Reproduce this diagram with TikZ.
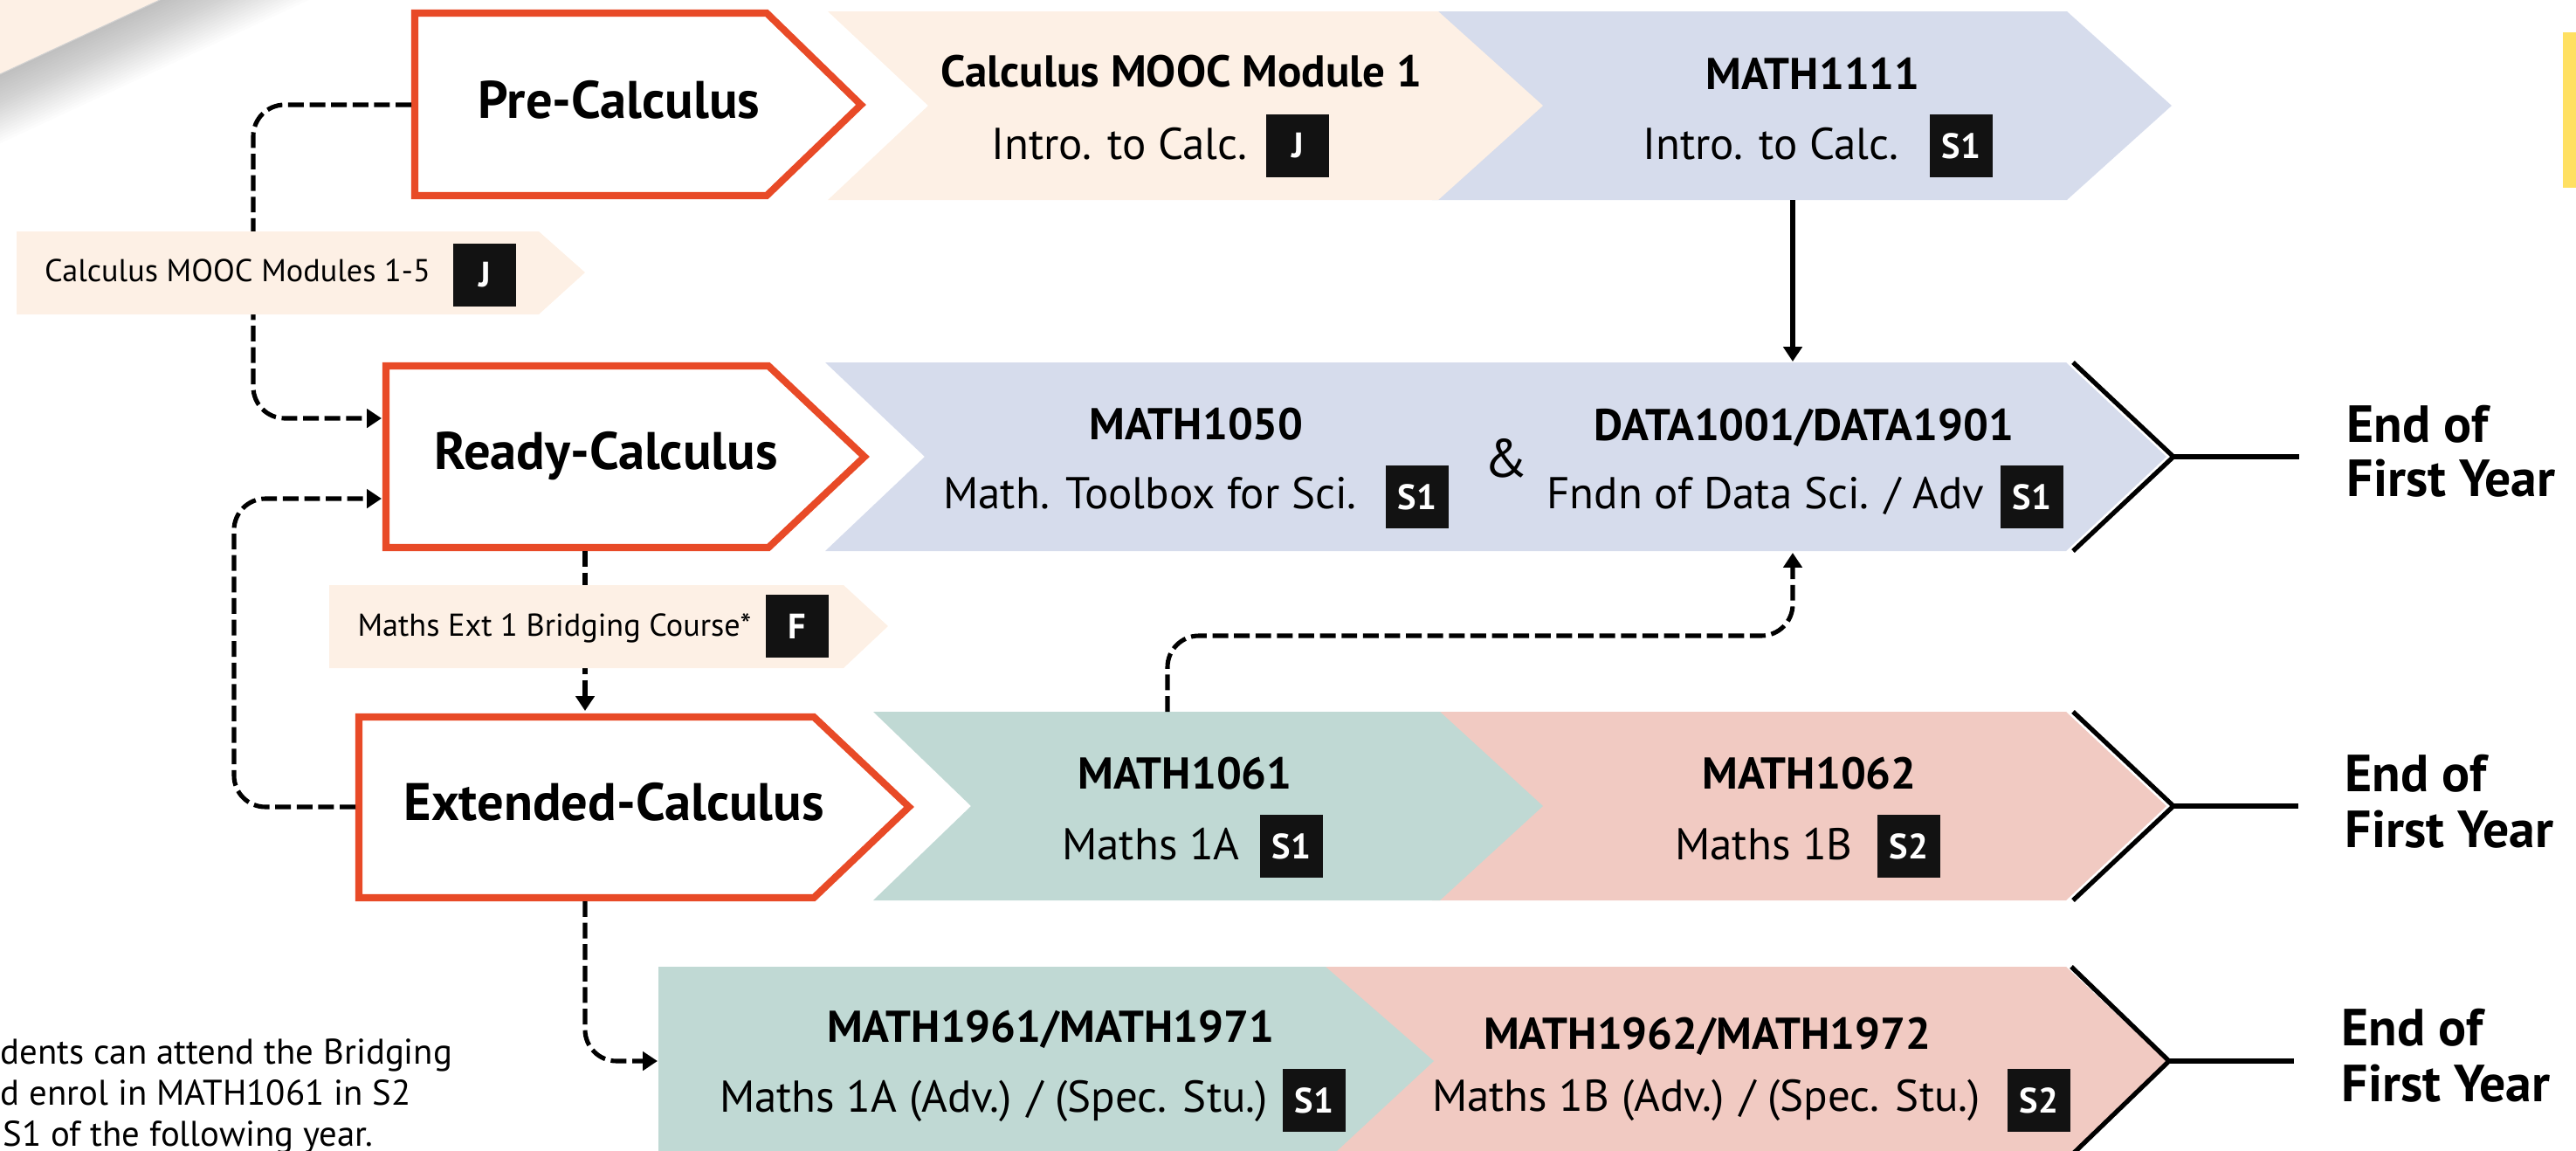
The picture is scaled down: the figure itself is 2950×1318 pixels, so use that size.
\documentclass[tikz,border=0pt]{standalone}
\usepackage{fontspec}
\setmainfont{PT Sans}
\usetikzlibrary{arrows.meta}
\definecolor{cred}{RGB}{232,74,39}
\definecolor{cbeige}{RGB}{253,240,229}
\definecolor{cblue}{RGB}{214,220,236}
\definecolor{cteal}{RGB}{192,217,212}
\definecolor{cpink}{RGB}{241,202,194}
\definecolor{cbadge}{RGB}{18,18,18}
\definecolor{cyellow}{RGB}{255,224,98}
\tikzset{
  x=0.01cm, y=-0.01cm,
  redbox/.style={draw=cred, fill=white, line width=2.3pt},
  lbl/.style={anchor=base, inner sep=0pt, font=\bfseries\fontsize{17.2}{19}\selectfont},
  ctitle/.style={anchor=base, inner sep=0pt, font=\bfseries\fontsize{14.5}{16}\selectfont},
  csub/.style={anchor=base, inner sep=0pt, font=\fontsize{14.5}{16}\selectfont},
  badge/.style={fill=cbadge, text=white, inner sep=0pt, minimum width=0.72cm, minimum height=0.72cm, font=\bfseries\fontsize{11.5}{12}\selectfont},
  endtxt/.style={anchor=base west, inner sep=0pt, font=\bfseries\fontsize{17}{18}\selectfont},
  smalltxt/.style={anchor=base, inner sep=0pt, font=\fontsize{10.3}{12}\selectfont},
  foot/.style={anchor=base west, inner sep=0pt, font=\fontsize{11.6}{13}\selectfont},
  endline/.style={draw=black, line width=1.5pt},
  dashconn/.style={draw=black, line width=1.45pt, dash pattern=on 5.1pt off 1.9pt, rounded corners=0.36cm, -{Triangle[length=4.8pt,width=6pt]}},
  solidconn/.style={draw=black, line width=1.45pt, -{Triangle[length=4.8pt,width=6pt]}}
}
\begin{document}
\begin{tikzpicture}
\useasboundingbox (0,0) rectangle (2950,1318);
\begin{scope}
\clip (0,0) rectangle (2950,1318);
% soft shadow of the corner sheet
\foreach \d in {3,6,...,72} {
  \fill[black, fill opacity=0.011] (-100,131.45) -- (400,-100.8) -- ({400+0.421*\d},{-100.8+0.907*\d}) -- ({-100+0.421*\d},{131.45+0.907*\d}) -- cycle;
}
\fill[cbeige] (-100,131.45) -- (400,-100.8) -- (-100,-100.8) -- cycle;
\draw[black!18, line width=0.3pt] (-100,131.45) -- (400,-100.8);
% yellow bar
\fill[cyellow] (2935,37) rectangle (2960,215);

% row 1
\fill[cblue] (1640,13) -- (2367,13) -- (2487,121) -- (2367,229) -- (1640,229) -- (1760,121) -- cycle;
\fill[cbeige] (948,13) -- (1647,13) -- (1767,121) -- (1647,229) -- (948,229) -- (1063,121) -- cycle;
% row 2
\fill[cblue] (945,415) -- (2366,415) -- (2481,523) -- (2366,631) -- (945,631) -- (1059,523) -- cycle;
% row 3
\fill[cpink] (1640,815) -- (2366,815) -- (2481,923) -- (2366,1031) -- (1640,1031) -- (1760,923) -- cycle;
\fill[cteal] (1000,815) -- (1649,815) -- (1767,923) -- (1649,1031) -- (1000,1031) -- (1112,923) -- cycle;
% row 4
\fill[cpink] (1510,1107) -- (2366,1107) -- (2481,1215) -- (2366,1330) -- (1510,1330) -- (1635,1215) -- cycle;
\fill[cteal] (754,1107) -- (1518,1107) -- (1642,1215) -- (1518,1330) -- (754,1330) -- cycle;

% end-of-year chevron lines
\coordinate (tipA) at (2489,523); \coordinate (endA) at (2633,523);
\coordinate (tipB) at (2489,923); \coordinate (endB) at (2632,923);
\coordinate (tipC) at (2484,1215); \coordinate (endC) at (2627,1215);
\draw[endline] (2374,415) -- (tipA) -- (2374,631);
\draw[endline] (tipA) -- (endA);
\draw[endline] (2374,815) -- (tipB) -- (2374,1031);
\draw[endline] (tipB) -- (endB);
\draw[endline] (2372,1107) -- (tipC) -- (2372,1323);
\draw[endline] (tipC) -- (endC);

% red entry boxes
\draw[redbox] (475,15) -- (878,15) -- (986,120) -- (878,224) -- (475,224) -- cycle;
\draw[redbox] (442,419) -- (880,419) -- (990,523) -- (880,627) -- (442,627) -- cycle;
\draw[redbox] (411,821) -- (932,821) -- (1041,924) -- (932,1028) -- (411,1028) -- cycle;

% connector coordinates
\coordinate (preW) at (471,120);
\coordinate (bendA) at (290,479);
\coordinate (readyWa) at (437,479);
\coordinate (extW) at (407,924);
\coordinate (bendB) at (268,571);
\coordinate (readyWb) at (437,571);
\coordinate (readyS) at (670,631);
\coordinate (extN) at (670,814);
\coordinate (extS) at (670,1032);
\coordinate (tealW) at (753,1215);
\coordinate (mA) at (1337,815);
\coordinate (bendE) at (2053,728);
\coordinate (dataS) at (2053,633);
\coordinate (mB) at (2053,229);
\coordinate (dataN) at (2053,414);

\draw[dashconn] (preW) -| (bendA) -- (readyWa);
\draw[dashconn] (extW) -| (bendB) -- (readyWb);
\draw[dashconn] (readyS) -- (extN);
\draw[dashconn] (extS) |- (tealW);
\draw[dashconn] (mA) |- (bendE) -- (dataS);
\draw[solidconn] (mB) -- (dataN);

% small beige boxes
\fill[cbeige] (19,265) -- (617,265) -- (670,312) -- (617,360) -- (19,360) -- cycle;
\fill[cbeige] (377,670) -- (966,670) -- (1017,717) -- (966,765) -- (377,765) -- cycle;
\end{scope}

% labels of entry boxes
\node[lbl] (pre) at (709,135) {Pre-Calculus};
\node[lbl] (ready) at (694,537) {Ready-Calculus};
\node[lbl] (ext) at (703,939) {Extended-Calculus};

% small boxes text
\node[smalltxt] (mooc15) at (272,322) {Calculus MOOC Modules 1-5};
\node[badge] (bJ0) at (555,315) {J};
\node[smalltxt] (bridge) at (635,728) {Maths Ext 1 Bridging Course*};
\node[badge] (bF) at (913,717) {F};

% row 1
\node[ctitle] (mooc1) at (1353,100) {Calculus MOOC Module 1};
\node[csub] (mooc1s) at (1282,182) {Intro. to Calc.};
\node[badge] (bJ1) at (1486,167) {J};
\node[ctitle] (m1111) at (2076,102) {MATH1111};
\node[csub] (m1111s) at (2028,182) {Intro. to Calc.};
\node[badge] (b1111) at (2246,167) {S1};

% row 2
\node[ctitle] (m1050) at (1370,503) {MATH1050};
\node[csub] (m1050s) at (1317,582) {Math. Toolbox for Sci.};
\node[badge] (b1050) at (1623,569) {S1};
\node[anchor=base, inner sep=0pt, font=\fontsize{17.6}{18}\selectfont] (amp) at (1725,546) {\&};
\node[ctitle] (data) at (2066,504) {DATA1001/DATA1901};
\node[csub] (datas) at (2022,582) {Fndn of Data Sci. / Adv};
\node[badge] (bdata) at (2327,569) {S1};
\node[endtxt] (endA1) at (2687,506) {End of};
\node[endtxt] (endA2) at (2687,568) {First Year};

% row 3
\node[ctitle] (m1061) at (1357,903) {MATH1061};
\node[csub] (m1061s) at (1318,984) {Maths 1A};
\node[badge] (b1061) at (1479,969) {S1};
\node[ctitle] (m1062) at (2072,903) {MATH1062};
\node[csub] (m1062s) at (2020,984) {Maths 1B};
\node[badge] (b1062) at (2186,969) {S2};
\node[endtxt] (endB1) at (2685,906) {End of};
\node[endtxt] (endB2) at (2685,970) {First Year};

% row 4
\node[ctitle] (m1961) at (1203,1193) {MATH1961/MATH1971};
\node[csub] (m1961s) at (1138,1273) {Maths 1A (Adv.) / (Spec. Stu.)};
\node[badge] (b1961) at (1505,1260) {S1};
\node[ctitle] (m1962) at (1955,1201) {MATH1962/MATH1972};
\node[csub] (m1962s) at (1954,1272) {Maths 1B (Adv.) / (Spec. Stu.)};
\node[badge] (b1962) at (2335,1260) {S2};
\node[endtxt] (endC1) at (2681,1197) {End of};
\node[endtxt] (endC2) at (2681,1261) {First Year};

% footnote
\node[foot] (fn1) at (0,1218) {dents can attend the Bridging};
\node[foot] (fn2) at (0,1265) {d enrol in MATH1061 in S2};
\node[foot] (fn3) at (3,1312) {S1 of the following year.};
\end{tikzpicture}
\end{document}
